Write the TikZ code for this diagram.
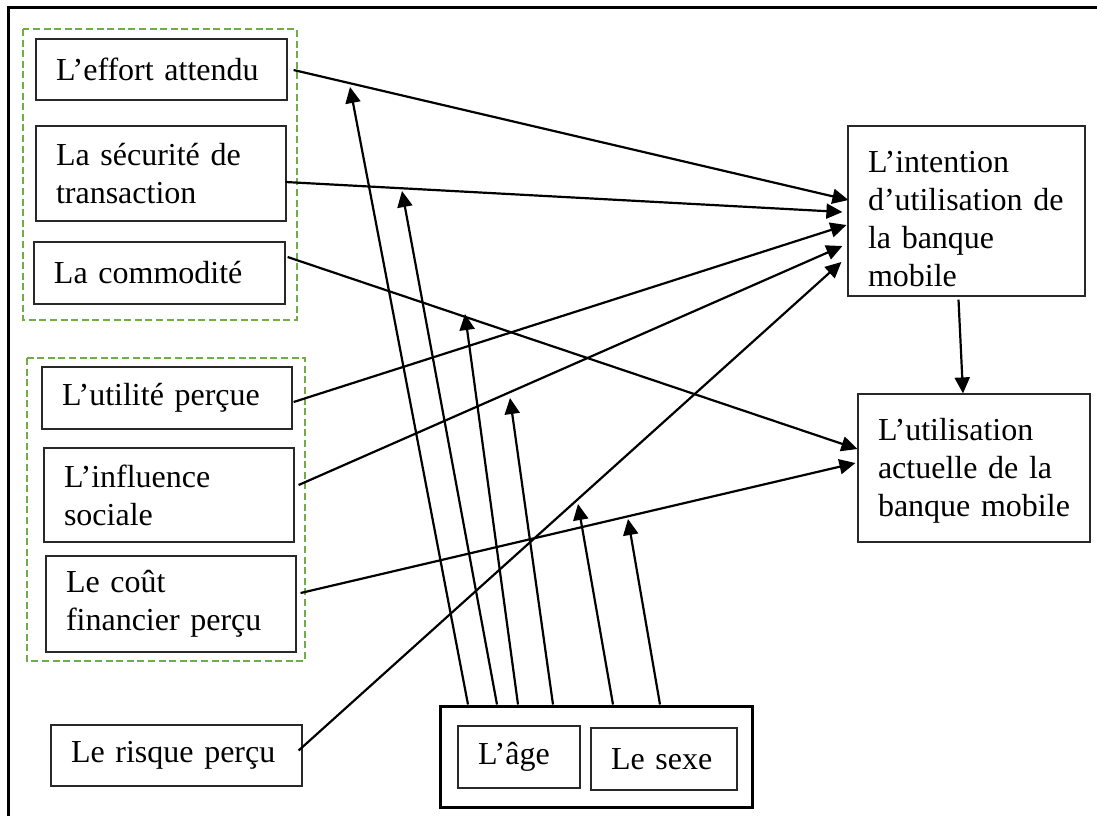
\documentclass[tikz,border=0pt]{standalone}
\usepackage{fontspec}
\setmainfont{Liberation Serif}
\usetikzlibrary{arrows.meta,calc}
\definecolor{grn}{RGB}{112,173,71}
\definecolor{boxline}{RGB}{40,40,40}
\begin{document}
\begin{tikzpicture}[x=0.5pt,y=-0.5pt,
  box/.style={draw=boxline, line width=0.6pt, inner xsep=10pt, inner ysep=0pt,
    align=left, font=\fontsize{16}{19}\selectfont},
  conn/.style={line width=1.1pt, -{Triangle[length=8pt,width=7.5pt]}},
  grp/.style={draw=grn, line width=1pt, dash pattern=on 3.5pt off 1.8pt},
  frame/.style={line width=1.5pt}]
\useasboundingbox (0,0) rectangle (1097,816);
% outer frame (cropped on right and bottom)
\draw[frame] (8,816) -- (8,7) -- (1097,7);
% green dashed groupings
\draw[grp] (23,29) rectangle (297,320);
\draw[grp] (27,358) rectangle (305,661);
% left boxes
\node[box, text width=105.5pt, minimum height=30.5pt] (effort) at (161.5,69.5) {L’effort attendu};
\node[box, text width=105pt, minimum height=47.5pt] (securite) at (161,173.5) {La sécurité de\\transaction};
\node[box, text width=105.5pt, minimum height=31pt] (commodite) at (159.5,273) {La commodité};
\node[box, text width=105pt, minimum height=31pt] (utilite) at (167,398) {L’utilité perçue};
\node[box, text width=105pt, minimum height=47pt] (influence) at (169,495) {L’influence\\sociale};
\node[box, text width=105pt, minimum height=48pt] (cout) at (171,604) {Le coût\\financier perçu};
\node[box, text width=105.5pt, minimum height=30.5pt] (risque) at (176.5,755.5) {Le risque perçu};
% right boxes
\node[box, text width=98.5pt, minimum height=85pt] (intention) at (966.5,211) {\rule{0pt}{19pt}L’intention\\d’utilisation de\\la banque\\mobile};
\node[box, text width=96pt, minimum height=74pt] (utilisation) at (974,468) {\rule{0pt}{14pt}L’utilisation\\actuelle de la\\banque mobile};
% moderators
\node[draw, line width=1.5pt, minimum width=156pt, minimum height=50.5pt, inner sep=0pt] (mod) at (596,756.5) {};
\node[box, text width=41pt, minimum height=31pt] (age) at (519,757) {L’âge};
\node[box, text width=53pt, minimum height=31pt] (sexe) at (664,759) {Le sexe};
% direct effects
\draw[conn] ($(effort.east)+(6,0.5)$) -- ($(intention.west)+(1,-11)$);
\draw[conn] ($(securite.east)+(-1,8.5)$) -- ($(intention.west)+(-5,1)$);
\draw[conn] ($(commodite.east)+(2,-16)$) -- ($(utilisation.west)+(0,-19)$);
\draw[conn] ($(utilite.east)+(1,4)$) -- ($(intention.west)+(-1,14)$);
\draw[conn] ($(influence.east)+(4,-10)$) -- ($(intention.west)+(-5,35)$);
\draw[conn] ($(cout.east)+(4,-11)$) -- ($(utilisation.west)+(-2,-5)$);
\draw[conn] ($(risque.east)+(-4,-5)$) -- ($(intention.west)+(-6,51)$);
\draw[conn] ($(intention.south)+(-8,3)$) -- ($(utilisation.north)+(-11,0)$);
% moderating effects
\coordinate (m1) at (350,87);
\coordinate (m2) at (402,191);
\coordinate (m3) at (465,314);
\coordinate (m4) at (510,398);
\coordinate (m5) at (578,504);
\coordinate (m6) at (628,519);
\draw[conn] ($(mod.north)+(-128,0)$) -- (m1);
\draw[conn] ($(mod.north)+(-99,0)$) -- (m2);
\draw[conn] ($(mod.north)+(-78,0)$) -- (m3);
\draw[conn] ($(mod.north)+(-43,0)$) -- (m4);
\draw[conn] ($(mod.north)+(17,0)$) -- (m5);
\draw[conn] ($(mod.north)+(64,0)$) -- (m6);
\end{tikzpicture}
\end{document}
